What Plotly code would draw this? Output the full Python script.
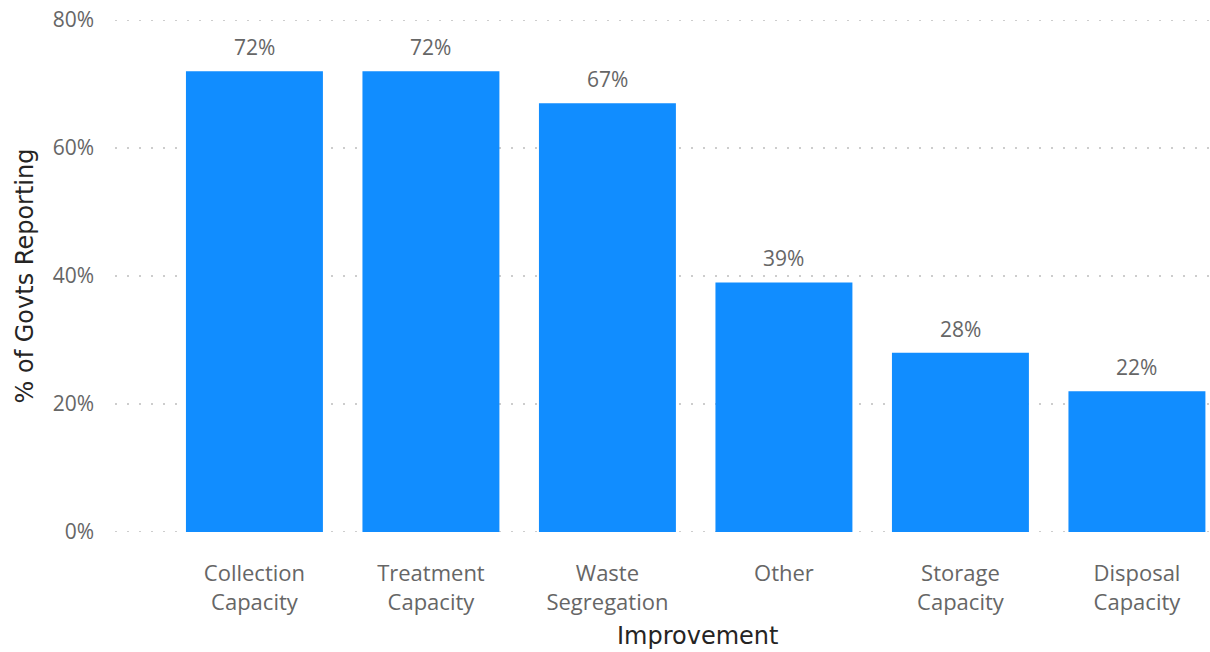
import plotly.graph_objects as go

# Share of governments reporting each improvement
categories = ["Collection Capacity", "Treatment Capacity", "Waste Segregation",
              "Other", "Storage Capacity", "Disposal Capacity"]
tick_labels = ["Collection<br>Capacity", "Treatment<br>Capacity", "Waste<br>Segregation",
               "Other", "Storage<br>Capacity", "Disposal<br>Capacity"]
values = [0.72, 0.72, 0.67, 0.39, 0.28, 0.22]
y_ticks = [0, 0.2, 0.4, 0.6, 0.8]

base_family = "Open Sans, Segoe UI, sans-serif"
value_font = dict(family=base_family, size=21, color="#666666")
cat_font = dict(family=base_family, size=22, color="#666666")
title_font = dict(family="DejaVu Sans, sans-serif", size=24, color="#252423")
grid_style = dict(color="#CDCDCD", width=2, dash="2px,10px")

fig = go.Figure(
    go.Bar(
        x=categories,
        y=values,
        marker=dict(color="#118DFF", line=dict(width=0)),
        width=0.776,
        hoverinfo="x+y",
    )
)

# value labels above each bar
for cat, v in zip(categories, values):
    fig.add_annotation(
        x=cat, y=v, text=f"{v:.0%}", showarrow=False,
        yanchor="bottom", yshift=8, font=value_font,
    )

# dotted lines at the ends of the value range (plotly skips grid there)
for yv in (y_ticks[0], y_ticks[-1]):
    fig.add_shape(
        type="line", xref="paper", x0=0, x1=1, yref="y", y0=yv, y1=yv,
        line=grid_style, layer="below",
    )

# category axis title, set slightly right of centre below the labels
fig.add_annotation(
    text="Improvement", xref="paper", yref="paper", x=0.532, y=-0.203,
    xanchor="center", yanchor="middle", showarrow=False, font=title_font,
)

fig.update_layout(
    width=1210,
    height=652,
    margin=dict(l=115, r=0, t=20, b=120),
    plot_bgcolor="white",
    paper_bgcolor="white",
    showlegend=False,
    xaxis=dict(
        range=[-0.79, 5.414],
        tickmode="array",
        tickvals=categories,
        ticktext=tick_labels,
        tickfont=cat_font,
        ticklabelstandoff=26,
        showgrid=False,
        showline=False,
        zeroline=False,
    ),
    yaxis=dict(
        range=[0, 0.8],
        tickvals=y_ticks,
        tickformat=".0%",
        tickfont=value_font,
        ticklabelstandoff=20,
        showgrid=True,
        gridcolor=grid_style["color"],
        griddash=grid_style["dash"],
        gridwidth=grid_style["width"],
        zeroline=False,
        showline=False,
        title=dict(text="% of Govts Reporting", font=title_font, standoff=12),
    ),
)

fig.write_html("out.html")
